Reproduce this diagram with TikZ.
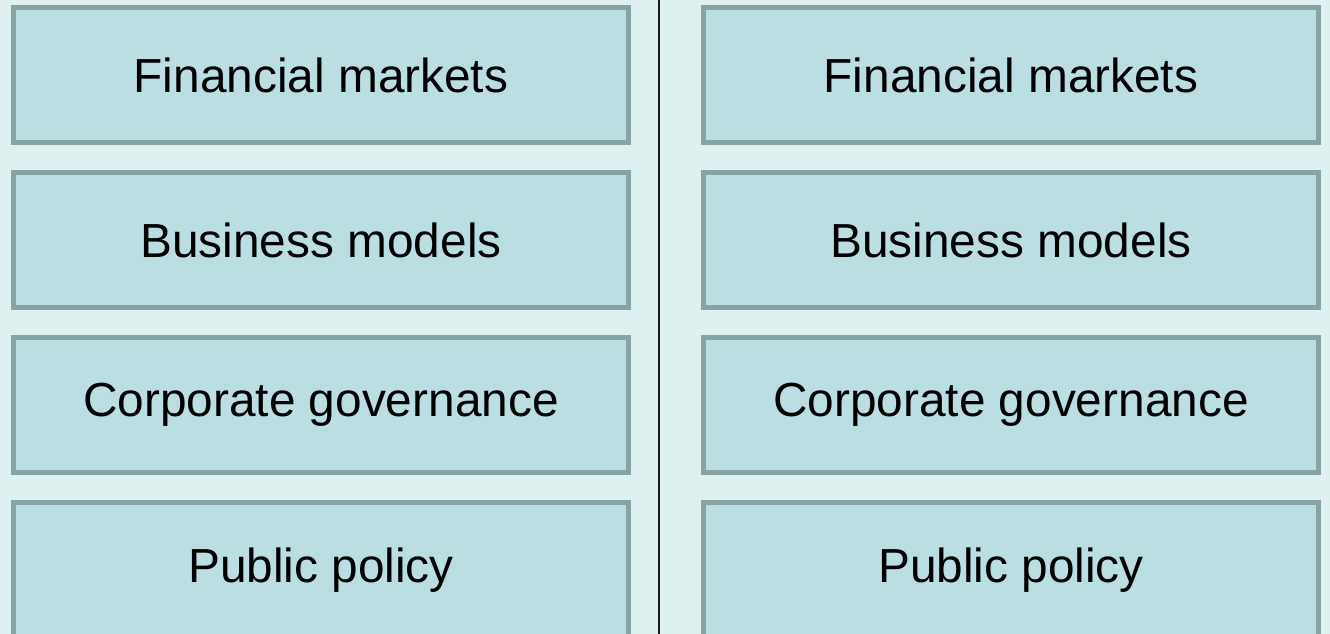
\documentclass[tikz,border=0pt]{standalone}
\usepackage{fontspec}
\setmainfont{Liberation Sans}
\usepackage{xcolor}
\usepackage{tikz}
\usetikzlibrary{positioning}

\definecolor{bgpale}{HTML}{DFF0F0}
\definecolor{panelfill}{HTML}{BBDEE3}
\definecolor{panelrim}{HTML}{87A4A5}

\tikzset{
    panel/.style={draw=panelrim, fill=panelfill, line width=0.1cm,
        minimum width=12.3cm, minimum height=2.7cm, inner sep=0pt,
        font=\fontsize{27.2}{31}\selectfont},
}

\begin{document}
\begin{tikzpicture}[node distance=0.5cm]
    % Nền
    \fill[bgpale] (0,0) rectangle (26.6,-12.68);
    \useasboundingbox (0,0) rectangle (26.6,-12.68);

    % Cột trái
    \node[panel] (fin1) at (6.42,-1.5) {Financial markets};
    \node[panel, below=of fin1] (bus1) {Business models};
    \node[panel, below=of bus1] (gov1) {Corporate governance};
    \node[panel, below=of gov1] (pol1) {Public policy};

    % Cột phải
    \node[panel] (fin2) at (20.22,-1.5) {Financial markets};
    \node[panel, below=of fin2] (bus2) {Business models};
    \node[panel, below=of bus2] (gov2) {Corporate governance};
    \node[panel, below=of gov2] (pol2) {Public policy};

    % Đường phân cách
    \coordinate (topmid) at (13.17,0);
    \coordinate (botmid) at (13.17,-12.68);
    \draw[line width=0.04cm, black!90] (topmid) -- (botmid);
\end{tikzpicture}
\end{document}
